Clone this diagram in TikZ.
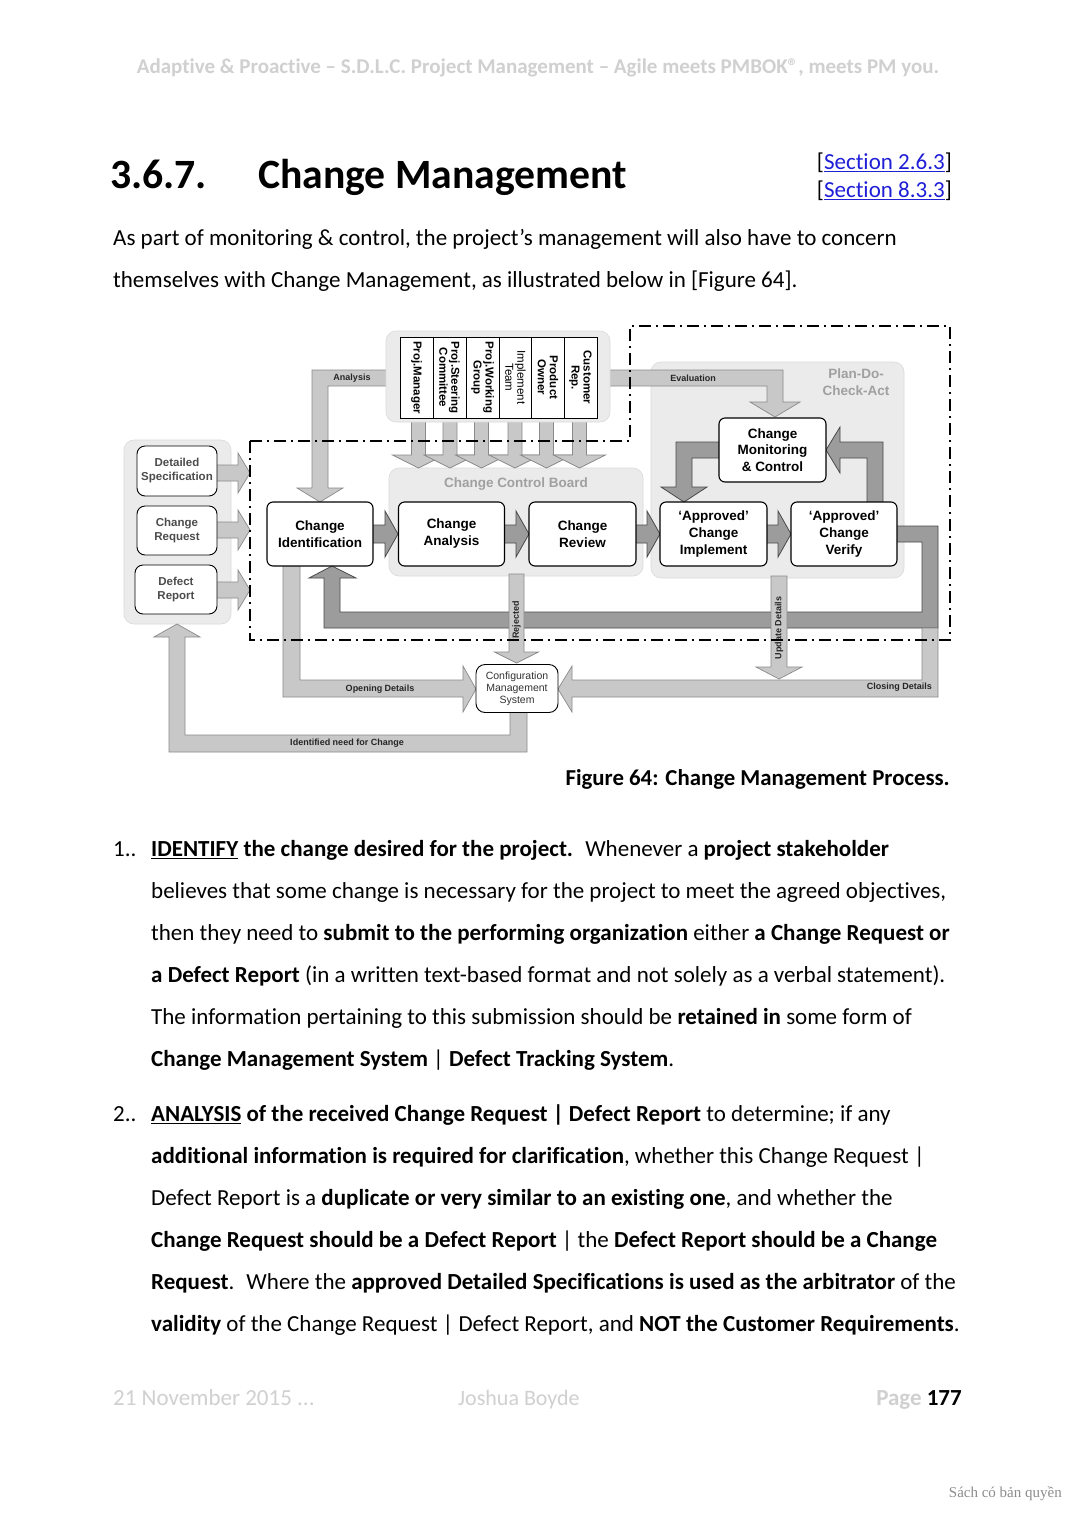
\documentclass[tikz,border=0pt]{standalone}
\usepackage{fontspec}
\setmainfont{Carlito}[Ligatures={NoCommon}]
\newfontfamily\arial{Liberation Sans}
\newfontfamily\tnr{Liberation Serif}
\definecolor{grp}{HTML}{EBEBEB}
\definecolor{grpline}{HTML}{DADADA}
\definecolor{lfill}{HTML}{C8C8C8}
\definecolor{ldraw}{HTML}{8A8A8A}
\definecolor{dfill}{HTML}{9C9C9C}
\definecolor{ddraw}{HTML}{4A4A4A}
\definecolor{hdr}{HTML}{D0D0D0}
\definecolor{linkblue}{HTML}{1F1FD8}
\definecolor{grouplbl}{HTML}{A0A0A0}
\newcommand\bodyf{\fontsize{23}{27}\selectfont}
\newcommand\rarrow[7]{\draw[#1] (#2,#4-#5) -- (#3-#7,#4-#5) -- (#3-#7,#4-#6) -- (#3,#4) -- (#3-#7,#4+#6) -- (#3-#7,#4+#5) -- (#2,#4+#5) -- cycle;}
\newcommand\darrow[7]{\draw[#1] (#2-#5,#3) -- (#2+#5,#3) -- (#2+#5,#4-#7) -- (#2+#6,#4-#7) -- (#2,#4) -- (#2-#6,#4-#7) -- (#2-#5,#4-#7) -- cycle;}
\begin{document}
\begin{tikzpicture}[x=1pt,y=-1pt,
  txt/.style={anchor=base west,inner sep=0pt,font=\bodyf},
  grpbox/.style={fill=grp,draw=grpline,line width=0.6pt,rounded corners=10pt},
  larrow/.style={fill=lfill,draw=ldraw,line width=0.7pt,line join=miter},
  darr/.style={fill=dfill,draw=ddraw,line width=0.8pt,line join=miter},
  box/.style={draw=black,line width=1.1pt,fill=white,rounded corners=6pt,align=center,inner sep=0pt,font=\arial\bfseries\fontsize{13.5}{17}\selectfont},
  sbox/.style={draw=black,line width=0.9pt,fill=white,rounded corners=8pt,align=center,inner sep=0pt,text=black!70,font=\arial\bfseries\fontsize{11.5}{14}\selectfont},
  colbox/.style={draw=black,line width=0.8pt,fill=white,rotate=-90,minimum width=81pt,minimum height=33pt,align=center,inner sep=0pt,font=\arial\bfseries\fontsize{11.5}{12}\selectfont},
  lbl/.style={inner sep=0pt,text=black!85,font=\arial\bfseries\fontsize{9}{10}\selectfont},
  glbl/.style={inner sep=0pt,align=center,text=grouplbl,font=\arial\bfseries\fontsize{13.5}{17}\selectfont},
  dashdot/.style={draw=black,line width=1.2pt,dash pattern=on 12pt off 5pt on 2pt off 5pt}
]
\useasboundingbox[fill=white] (0,0) rectangle (1077,1521);

% ---------- page text ----------
\node[anchor=base,inner sep=0pt,text=hdr,font=\bfseries\fontsize{21}{24}\selectfont] (hdr) at (538,73) {Adaptive \& Proactive – S.D.L.C. Project Management – Agile meets PMBOK®, meets PM you.};
\node[anchor=base west,inner sep=0pt,font=\bfseries\fontsize{41.7}{48}\selectfont] (hnum) at (110,188) {3.6.7.};
\node[anchor=base west,inner sep=0pt,font=\bfseries\fontsize{41.7}{48}\selectfont] (htitle) at (258,188) {Change Management};
\node[anchor=base east,inner sep=0pt,font=\bodyf] (s1) at (952,169.5) {[\textcolor{linkblue}{\underline{Section 2.6.3}}]};
\node[anchor=base east,inner sep=0pt,font=\bodyf] (s2) at (952,197.5) {[\textcolor{linkblue}{\underline{Section 8.3.3}}]};
\node[txt] (p1) at (113,245.5) {As part of monitoring \& control, the project’s management will also have to concern};
\node[txt] (p2) at (113,287.5) {themselves with Change Management, as illustrated below in [Figure 64].};
\node[anchor=base east,inner sep=0pt,font=\fontsize{22.8}{27}\selectfont\bfseries] (cap) at (950,785.5) {Figure 64: Change Management Process.};

\node[txt] (n1) at (113,856.5) {1..};
\node[txt] (a1) at (151,856.5) {\underline{\textbf{IDENTIFY}}\textbf{ the change desired for the project.}~ Whenever a \textbf{project stakeholder}};
\node[txt] (a2) at (151,898.5) {believes that some change is necessary for the project to meet the agreed objectives,};
\node[txt] (a3) at (151,940.5) {then they need to \textbf{submit to the performing organization} either \textbf{a Change Request or}};
\node[txt] (a4) at (151,982.5) {\textbf{a Defect Report} (in a written text-based format and not solely as a verbal statement).};
\node[txt] (a5) at (151,1024.5) {The information pertaining to this submission should be \textbf{retained in} some form of};
\node[txt] (a6) at (151,1066.5) {\textbf{Change Management System} | \textbf{Defect Tracking System}.};

\node[txt] (n2) at (113,1121.5) {2..};
\node[txt] (b1) at (151,1121.5) {\underline{\textbf{ANALYSIS}}\textbf{ of the received Change Request | Defect Report} to determine; if any};
\node[txt] (b2) at (151,1163.5) {\textbf{additional information is required for clarification}, whether this Change Request |};
\node[txt] (b3) at (151,1205.5) {Defect Report is a \textbf{duplicate or very similar to an existing one}, and whether the};
\node[txt] (b4) at (151,1247.5) {\textbf{Change Request should be a Defect Report} | the \textbf{Defect Report should be a Change}};
\node[txt] (b5) at (151,1289.5) {\textbf{Request}.~ Where the \textbf{approved Detailed Specifications is used as the arbitrator} of the};
\node[txt] (b6) at (151,1331.5) {\textbf{validity} of the Change Request | Defect Report, and \textbf{NOT the Customer Requirements}.};

\node[txt,text=hdr] (f1) at (113,1405.5) {21 November 2015 ...};
\node[txt,text=hdr,font=\fontsize{22}{27}\selectfont] (f2) at (458,1405.5) {Joshua Boyde};
\node[anchor=base east,inner sep=0pt,font=\bodyf\bfseries] (f3) at (962,1405.5) {\textcolor{hdr}{Page} 177};
\node[anchor=base east,inner sep=0pt,text=black!45,font=\tnr\fontsize{15}{17}\selectfont] (wm) at (1062,1497) {Sách có bản quyền};

% ---------- diagram: groups ----------
\draw[grpbox] (124,440) rectangle (231,624);
\draw[grpbox] (389,468) rectangle (643,576);
\draw[grpbox] (651,362) rectangle (904,578);
\node[glbl] (ccbl) at (516,484) {Change Control Board};
\node[glbl,anchor=center] (pdca) at (856,382) {Plan-Do-\\Check-Act};

% analysis & evaluation
\draw[larrow] (392,370) -- (312,370) -- (312,488) -- (297,488) -- (320,502) -- (343,488) -- (328,488) -- (328,386) -- (392,386) -- cycle;
\draw[larrow] (605,370) -- (783,370) -- (783,402) -- (800,402) -- (775,417) -- (750,402) -- (767,402) -- (767,386) -- (605,386) -- cycle;
\node[lbl] (lan) at (352,378) {Analysis};
\node[lbl] (lev) at (693,378) {Evaluation};

% six arrows to CCB
\darrow{larrow}{418.5}{415}{468}{7}{26}{13}
\darrow{larrow}{450}{415}{468}{7}{26}{13}
\darrow{larrow}{481.5}{415}{468}{7}{26}{13}
\darrow{larrow}{515}{415}{468}{7}{26}{13}
\darrow{larrow}{546.5}{415}{468}{7}{26}{13}
\darrow{larrow}{579.5}{415}{468}{7}{26}{13}

% stakeholder panel
\draw[grpbox] (386,331) rectangle (610,422);
\node[colbox] (c1) at (416.5,377.5) {Proj.Manager};
\node[colbox] (c2) at (449.5,377.5) {Proj.Steering\\Committee};
\node[colbox] (c3) at (482.5,377.5) {Proj.Working\\Group};
\node[colbox,font=\arial\fontsize{11.5}{12}\selectfont] (c4) at (515.5,377.5) {Implement\\Team};
\node[colbox] (c5) at (548,377.5) {Product\\Owner};
\node[colbox] (c6) at (580.5,377.5) {Customer\\Rep.};

% big dark loop
\draw[darr] (895,526) -- (938,526) -- (938,628) -- (324,628) -- (324,578) -- (309,578) -- (332,566) -- (356,578) -- (340,578) -- (340,612) -- (922,612) -- (922,542) -- (895,542) -- cycle;

% PDCA loops
\draw[darr] (721,442) -- (676,442) -- (676,487) -- (661,487) -- (684,502) -- (707,487) -- (692,487) -- (692,458) -- (721,458) -- cycle;
\draw[darr] (867,504) -- (867,458) -- (840,458) -- (840,473) -- (826,450) -- (840,427) -- (840,442) -- (883,442) -- (883,504) -- cycle;

% opening / closing / identified need
\draw[larrow] (283,564) -- (283,697) -- (463,697) -- (463,712) -- (476,689) -- (463,666) -- (463,680) -- (300,680) -- (300,564) -- cycle;
\draw[larrow] (922,628) -- (922,680) -- (572,680) -- (572,666) -- (558,689) -- (572,712) -- (572,697) -- (938,697) -- (938,628) -- cycle;
\draw[larrow] (510,710) -- (510,735) -- (185,735) -- (185,637) -- (200,637) -- (177,624) -- (154,637) -- (169,637) -- (169,752) -- (527,752) -- (527,710) -- cycle;
\node[lbl] (lop) at (380,689) {Opening Details};
\node[lbl,anchor=east] (lcl) at (932,687) {Closing Details};
\node[lbl] (lid) at (347,743) {Identified need for Change};

% rejected / update details
\darrow{larrow}{516.5}{574}{663}{7.5}{22}{11}
\darrow{larrow}{779}{576}{679}{8}{23}{12}
\node[lbl,rotate=90] (lrj) at (516.5,620) {Rejected};
\node[lbl,rotate=90] (lud) at (779,628) {Update Details};

% left small arrows
\rarrow{larrow}{215}{250}{473}{8}{20}{12}
\rarrow{larrow}{215}{250}{530}{8}{20}{12}
\rarrow{larrow}{215}{250}{590}{8}{20}{12}

% arrows between boxes
\rarrow{darr}{371}{398}{534}{9}{23}{13}
\rarrow{darr}{502}{529}{534}{9}{23}{13}
\rarrow{darr}{634}{660}{534}{9}{23}{13}
\rarrow{darr}{765}{791}{534}{9}{23}{13}

% ---------- boxes ----------
\node[sbox,minimum width=80pt,minimum height=50pt] (ds) at (177,471) {Detailed\\Specification};
\node[sbox,minimum width=80pt,minimum height=49pt] (cr) at (177,530.5) {Change\\Request};
\node[sbox,minimum width=82pt,minimum height=49pt] (dr) at (176,589.5) {Defect\\Report};
\node[box,minimum width=106pt,minimum height=64pt] (ci) at (320,534) {Change\\Identification};
\node[box,minimum width=106pt,minimum height=64pt] (ca) at (451.5,534) {Change\\Analysis};
\node[box,minimum width=107pt,minimum height=64pt] (crv) at (582.5,534) {Change\\Review};
\node[box,minimum width=107pt,minimum height=64pt] (ai) at (713.5,534) {‘Approved’\\Change\\Implement};
\node[box,minimum width=106pt,minimum height=64pt] (av) at (844,534) {‘Approved’\\Change\\Verify};
\node[box,minimum width=107pt,minimum height=64pt,font=\arial\bfseries\fontsize{13.5}{16.5}\selectfont] (cmc) at (772.5,450) {Change\\Monitoring\\\& Control};
\node[box,line width=0.9pt,rounded corners=9pt,minimum width=82pt,minimum height=48pt,font=\arial\fontsize{10.5}{12}\selectfont,text=black!80] (cms) at (517,688.5) {Configuration\\Management\\System};

% dash-dot boundary
\draw[dashdot] (250,441) -- (630,441) -- (630,326) -- (950,326) -- (950,640) -- (250,640) -- cycle;
\end{tikzpicture}
\end{document}
